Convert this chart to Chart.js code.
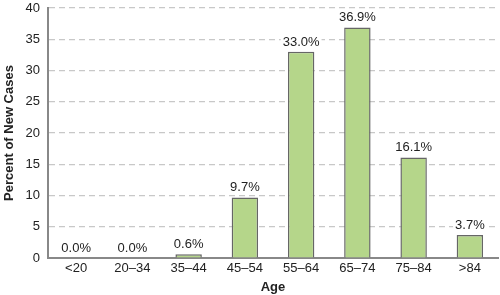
<!DOCTYPE html>
<html>
<head>
<meta charset="utf-8">
<script src="https://cdn.jsdelivr.net/npm/chart.js@4"></script>
<style>
  html, body { margin: 0; padding: 0; background: #fff; }
  #wrap { width: 500px; height: 295px; }
</style>
</head>
<body>
<div id="wrap"><canvas id="chart"></canvas></div>
<script>
const ageGroups = ['<20', '20–34', '35–44', '45–54', '55–64', '65–74', '75–84', '>84'];
const percentNewCases = [0.0, 0.0, 0.6, 9.7, 33.0, 36.9, 16.1, 3.7];
const yTicks = [0, 5, 10, 15, 20, 25, 30, 35, 40];

const FONT = 'Liberation Sans, Arial, Helvetica, sans-serif';

// value labels above bars, with a white box that breaks the grid lines
const valueLabels = {
  id: 'valueLabels',
  afterDatasetsDraw(chart) {
    const ctx = chart.ctx;
    const meta = chart.getDatasetMeta(0);
    ctx.save();
    ctx.font = '13px ' + FONT;
    ctx.textAlign = 'center';
    ctx.textBaseline = 'bottom';
    meta.data.forEach((bar, i) => {
      const txt = percentNewCases[i].toFixed(1) + '%';
      const w = ctx.measureText(txt).width;
      const y = bar.y - 4;
      ctx.fillStyle = '#fff';
      ctx.fillRect(bar.x - w / 2 - 2, y - 14, w + 4, 14);
      ctx.fillStyle = '#222';
      ctx.fillText(txt, bar.x, y + 1);
    });
    ctx.restore();
  }
};

new Chart(document.getElementById('chart'), {
  type: 'bar',
  data: {
    labels: ageGroups,
    datasets: [{
      data: percentNewCases,
      backgroundColor: '#b5d68a',
      borderColor: '#666',
      borderWidth: 1.5,
      borderSkipped: 'bottom',
      categoryPercentage: 1,
      barPercentage: 0.47
    }]
  },
  options: {
    responsive: true,
    maintainAspectRatio: false,
    animation: false,
    layout: { padding: { top: 8, right: 2, left: 2, bottom: 0 } },
    plugins: { legend: { display: false }, tooltip: { enabled: false } },
    scales: {
      x: {
        grid: { display: false, drawTicks: false },
        border: { color: '#888', width: 2 },
        ticks: { color: '#222', font: { family: FONT, size: 13 }, padding: 3 },
        title: { display: true, text: 'Age', color: '#222', font: { family: FONT, size: 13, weight: 'bold' }, padding: { top: 2, bottom: 0 } },
        afterFit(axis) { axis.height = 37; }
      },
      y: {
        min: 0, max: 40,
        afterBuildTicks(axis) { axis.ticks = yTicks.map(v => ({ value: v })); },
        afterFit(axis) { axis.width = 46; axis.paddingTop = 0; },
        grid: {
          color: (c) => c.tick && c.tick.value === 0 ? 'rgba(0,0,0,0)' : '#c8c8c8',
          lineWidth: 1.2,
          drawTicks: false
        },
        border: { color: '#888', width: 2, dash: [6, 4], dashOffset: 0 },
        ticks: { color: '#222', font: { family: FONT, size: 13 }, padding: 8 },
        title: { display: true, text: 'Percent of New Cases', color: '#222', font: { family: FONT, size: 13, weight: 'bold' }, padding: { top: 0, bottom: 2 } }
      }
    }
  },
  plugins: [valueLabels]
});
</script>
</body>
</html>
